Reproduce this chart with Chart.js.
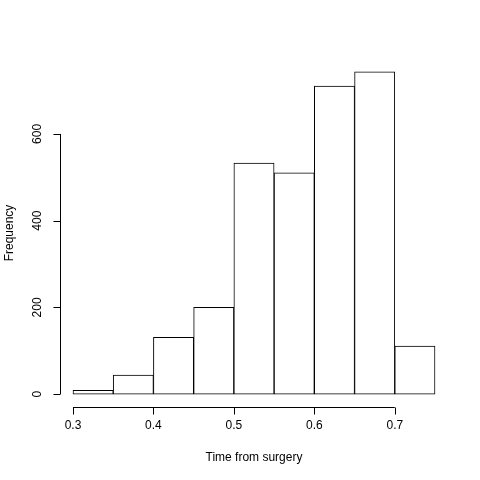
<!DOCTYPE html>
<html><head><script src="https://cdn.jsdelivr.net/npm/chart.js@4"></script>
<style>body{margin:0;background:#fff}#w{width:480px;height:480px}</style></head>
<body><div id="w"><canvas id="c"></canvas></div>
<script>
const binStarts=[0.30,0.35,0.40,0.45,0.50,0.55,0.60,0.65,0.70];
const binWidth=0.05;
const counts=[9,44,131,200,533,510,710,743,111];
const xTicks=[0.3,0.4,0.5,0.6,0.7];
const yTicks=[0,200,400,600];
const font='12px "Liberation Sans", Arial, sans-serif';
const axesPlugin={id:'rAxes',afterDraw(ch){
  const c=ch.ctx,xs=ch.scales.x,ys=ch.scales.y;
  c.save();c.strokeStyle='#000';c.fillStyle='#000';c.lineWidth=1;c.font=font;
  const ax=60.5, ay=407.5;
  c.beginPath();
  c.moveTo(xs.getPixelForValue(xTicks[0]),ay);c.lineTo(xs.getPixelForValue(xTicks[xTicks.length-1]),ay);
  xTicks.forEach(t=>{const p=Math.round(xs.getPixelForValue(t))+0.5;c.moveTo(p,ay);c.lineTo(p,ay+7);});
  c.moveTo(ax,ys.getPixelForValue(yTicks[0]));c.lineTo(ax,ys.getPixelForValue(yTicks[yTicks.length-1]));
  yTicks.forEach(t=>{const p=Math.round(ys.getPixelForValue(t))+0.5;c.moveTo(ax,p);c.lineTo(ax-7,p);});
  c.stroke();
  c.textAlign='center';c.textBaseline='middle';
  xTicks.forEach(t=>c.fillText(t.toFixed(1),xs.getPixelForValue(t),426));
  yTicks.forEach(t=>{c.save();c.translate(38,ys.getPixelForValue(t));c.rotate(-Math.PI/2);c.fillText(String(t),0,0);c.restore();});
  c.fillText('Time from surgery',254,458);
  c.save();c.translate(10,233);c.rotate(-Math.PI/2);c.fillText('Frequency',0,0);c.restore();
  c.restore();
}};
new Chart(document.getElementById('c'),{
  type:'bar',
  data:{datasets:[{data:binStarts.map((s,i)=>({x:s+binWidth/2,y:counts[i]})),
    backgroundColor:'#fff',borderColor:'#000',borderWidth:1,borderSkipped:false,barPercentage:1,categoryPercentage:1}]},
  options:{responsive:true,maintainAspectRatio:false,animation:false,
    layout:{padding:{left:58.5,right:30.5,top:59,bottom:73}},
    plugins:{legend:{display:false},tooltip:{enabled:false}},
    scales:{x:{type:'linear',offset:false,min:0.282,max:0.768,display:false},
            y:{min:-29.7,max:772.7,display:false}}},
  plugins:[axesPlugin]
});
</script></body></html>
